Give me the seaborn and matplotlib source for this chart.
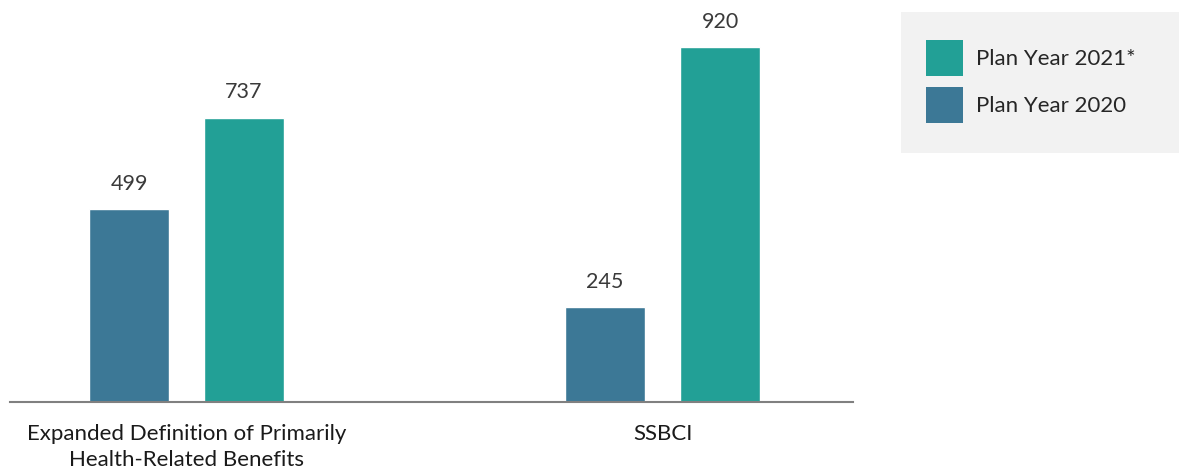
import pandas as pd
import matplotlib.pyplot as plt
import seaborn as sns
from matplotlib.patches import Rectangle, Patch

# values
categories = ['Expanded Definition of Primarily\nHealth-Related Benefits', 'SSBCI']
years = ['Plan Year 2020', 'Plan Year 2021*']
values_2020 = [499, 245]
values_2021 = [737, 920]

colors = {'Plan Year 2020': '#3c7896', 'Plan Year 2021*': '#22a096'}

df = pd.DataFrame({
    'category': categories * 2,
    'year': [years[0]] * 2 + [years[1]] * 2,
    'value': values_2020 + values_2021,
})

sns.set_theme(style='white')
plt.rcParams['font.family'] = ['Lato', 'DejaVu Sans']

fig = plt.figure(figsize=(11.79, 4.72), dpi=100)
ax = fig.add_axes([10 / 1179, 70 / 472, 843 / 1179, 402 / 472])

sns.barplot(data=df, x='category', y='value', hue='year', hue_order=years,
            order=categories, palette=colors, width=0.483, gap=0.304,
            saturation=1, legend=False, ax=ax)

for cont in ax.containers:
    ax.bar_label(cont, padding=11, fontsize=15.5, color='#3a3a3a')

ax.set_xlim(-0.371, 1.400)
ax.set_ylim(0, 1042)
ax.set_xlabel('')
ax.set_ylabel('')
ax.set_yticks([])
ax.tick_params(axis='x', length=0, pad=16, labelsize=16, labelcolor='#1a1a1a')
for lab in ax.get_xticklabels():
    lab.set_linespacing(1.35)
for s in ['top', 'left', 'right']:
    ax.spines[s].set_visible(False)
ax.spines['bottom'].set_color('#808080')
ax.spines['bottom'].set_linewidth(1.5)

# legend box
fig.patches.append(Rectangle((901 / 1179, 1 - 153 / 472), 278 / 1179, 141 / 472,
                             transform=fig.transFigure, facecolor='#f2f2f2',
                             edgecolor='none', zorder=0))
handles = [Patch(facecolor=colors[y], edgecolor='none') for y in years[::-1]]
fig.legend(handles, years[::-1], loc='upper left',
           bbox_to_anchor=(926 / 1179, 1 - 40 / 472), bbox_transform=fig.transFigure,
           frameon=False, borderpad=0, borderaxespad=0, fontsize=16,
           handlelength=1.65, handleheight=2.1, handletextpad=0.62, labelspacing=0.5)

plt.savefig('out.png', dpi=100)
